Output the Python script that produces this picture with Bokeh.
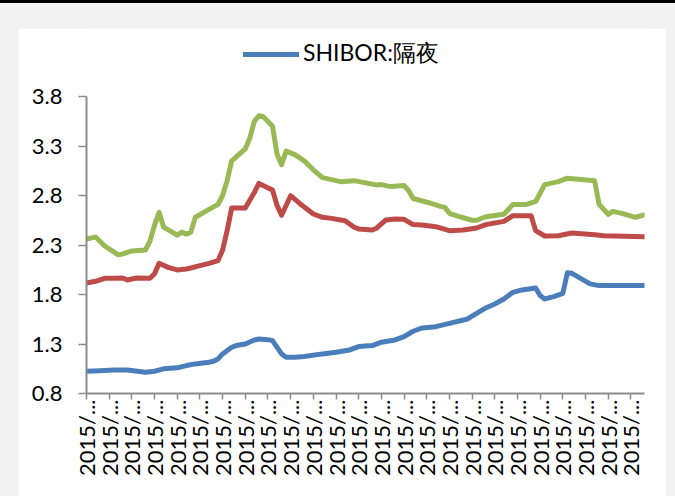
from bokeh.plotting import figure
from bokeh.layouts import column
from bokeh.models import Range1d, FixedTicker, Legend, LegendItem
from bokeh.embed import file_html
from bokeh.resources import INLINE

# ---- data (day index, rate) ----
blue_day = [0, 3, 6, 9, 13, 15, 17, 20, 22, 24, 27, 28, 29, 30, 32, 33, 35, 37, 38, 40, 41, 43, 44, 46, 48,
            52, 55, 58, 60, 63, 65, 68, 70, 72, 74, 77, 80, 84, 87, 88, 90, 92, 94, 96, 99, 100, 101, 103,
            105, 106, 107, 111, 113, 123]
blue_val = [1.025, 1.03, 1.038, 1.038, 1.015, 1.025, 1.049, 1.059, 1.082, 1.099, 1.116, 1.126, 1.149, 1.20,
            1.267, 1.284, 1.30, 1.341, 1.351, 1.344, 1.334, 1.20, 1.166, 1.166, 1.173, 1.200, 1.217, 1.240,
            1.274, 1.284, 1.318, 1.341, 1.375, 1.429, 1.462, 1.475, 1.509, 1.553, 1.637, 1.664, 1.704, 1.755,
            1.822, 1.846, 1.866, 1.789, 1.755, 1.779, 1.812, 2.02, 2.014, 1.907, 1.890, 1.890]

red_day = [0, 2, 4, 6, 8, 9, 11, 14, 15, 16, 18, 20, 22, 23, 25, 27, 29, 30, 31, 32, 35, 37, 38, 41, 42, 43,
           45, 47, 50, 52, 54, 56, 57, 59, 60, 63, 64, 66, 68, 70, 72, 74, 77, 80, 83, 86, 88, 92, 94, 98,
           99, 101, 104, 107, 112, 114, 123]
red_val = [1.916, 1.933, 1.963, 1.963, 1.966, 1.946, 1.966, 1.963, 2.01, 2.115, 2.074, 2.048, 2.058, 2.068,
           2.091, 2.115, 2.142, 2.25, 2.445, 2.674, 2.674, 2.831, 2.922, 2.855, 2.70, 2.60, 2.798, 2.72,
           2.613, 2.580, 2.569, 2.553, 2.546, 2.479, 2.462, 2.452, 2.472, 2.553, 2.563, 2.559, 2.506, 2.502,
           2.485, 2.445, 2.452, 2.472, 2.506, 2.539, 2.596, 2.596, 2.445, 2.391, 2.394, 2.421, 2.404, 2.394,
           2.384]

green_day = [0, 2, 4, 7, 8, 10, 13, 14, 15, 16, 17, 20, 21, 22, 23, 24, 27, 29, 30, 31, 32, 35, 36, 37, 38,
             39, 41, 42, 43, 44, 46, 48, 50, 52, 56, 59, 64, 65, 67, 70, 71, 72, 76, 78, 79, 80, 82, 85, 86,
             88, 92, 94, 97, 99, 101, 104, 106, 112, 113, 115, 116, 118, 121, 123]
green_val = [2.36, 2.38, 2.29, 2.20, 2.21, 2.24, 2.25, 2.34, 2.50, 2.63, 2.48, 2.40, 2.43, 2.41, 2.43, 2.58,
             2.66, 2.71, 2.80, 2.95, 3.15, 3.27, 3.38, 3.55, 3.605, 3.595, 3.50, 3.22, 3.11, 3.25, 3.21, 3.15,
             3.06, 2.98, 2.94, 2.95, 2.905, 2.91, 2.89, 2.90, 2.85, 2.77, 2.72, 2.69, 2.68, 2.62, 2.59, 2.55,
             2.55, 2.585, 2.61, 2.71, 2.71, 2.74, 2.91, 2.94, 2.975, 2.95, 2.71, 2.61, 2.64, 2.62, 2.58, 2.605]

x_ticks = list(range(0, 121, 5))
x_tick_labels = ["2015/..."] * len(x_ticks)
y_ticks = [0.8, 1.3, 1.8, 2.3, 2.8, 3.3, 3.8]
legend_label = "SHIBOR:隔夜"

BLUE, RED, GREEN = "#4a7ebb", "#be4b48", "#98b954"
FONT = "Lato"

Y_MIN, Y_MAX = y_ticks[0], y_ticks[-1]
TOP_PAD = 66 / 99.0   # empty space above 3.8 that holds the legend

p = figure(width=648, height=468, output_backend="svg", toolbar_location=None,
           x_range=Range1d(0, 123), y_range=Range1d(Y_MIN, Y_MAX + TOP_PAD),
           min_border_left=68, min_border_right=22, min_border_top=2, min_border_bottom=103)
p.border_fill_color = "white"
p.background_fill_color = "white"
p.outline_line_color = None
p.grid.visible = False

rg = p.line(green_day, green_val, line_color=GREEN, line_width=5, line_join="round", line_cap="round")
rr = p.line(red_day, red_val, line_color=RED, line_width=5, line_join="round", line_cap="round")
rb = p.line(blue_day, blue_val, line_color=BLUE, line_width=5, line_join="round", line_cap="round")

AX = "#8c8c8c"
xa = p.xaxis[0]
xa.ticker = FixedTicker(ticks=x_ticks)
xa.major_label_overrides = {t: l for t, l in zip(x_ticks, x_tick_labels)}
xa.major_label_orientation = 1.5707963
xa.major_label_text_font = FONT
xa.major_label_text_font_size = "22px"
xa.major_label_text_color = "black"
xa.major_label_standoff = 0
xa.axis_line_color = AX
xa.axis_line_width = 2
xa.major_tick_line_color = AX
xa.major_tick_line_width = 1.5
xa.major_tick_in = 0
xa.major_tick_out = 6
xa.minor_tick_line_color = None

ya = p.yaxis[0]
ya.bounds = (Y_MIN, Y_MAX)
ya.ticker = FixedTicker(ticks=y_ticks)
ya.major_label_overrides = {t: f"{t:.1f}" for t in y_ticks}
ya.major_label_text_font = FONT
ya.major_label_text_font_size = "22px"
ya.major_label_text_color = "black"
ya.major_label_standoff = 16
ya.axis_line_color = AX
ya.axis_line_width = 2
ya.major_tick_line_color = AX
ya.major_tick_line_width = 1.5
ya.major_tick_in = 0
ya.major_tick_out = 8
ya.minor_tick_line_color = None

legend = Legend(items=[LegendItem(label=legend_label, renderers=[rb])],
                location=(157, 324), orientation="horizontal",
                padding=0, margin=0, spacing=0,
                glyph_width=56, glyph_height=26, label_standoff=4,
                label_text_font=FONT, label_text_font_size="23px", label_text_color="black",
                border_line_color=None, background_fill_alpha=0)
p.add_layout(legend)

page = column(p, styles={"background-color": "#f2f2f2", "padding-left": "18px", "padding-top": "25px",
                         "padding-right": "9px", "border-top": "3px solid black"})

open("out.html", "w").write(file_html(page, INLINE))
